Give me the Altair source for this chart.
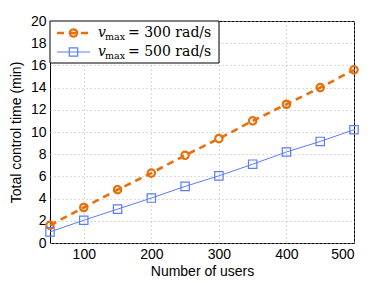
import altair as alt
import pandas as pd

users = [50, 100, 150, 200, 250, 300, 350, 400, 450, 500]
t300 = [1.6, 3.2, 4.8, 6.3, 7.9, 9.4, 11.0, 12.5, 14.0, 15.6]
t500 = [1.0, 2.05, 3.05, 4.05, 5.1, 6.05, 7.1, 8.2, 9.15, 10.2]
series_names = ["vmax = 300 rad/s", "vmax = 500 rad/s"]
x_ticks = [100, 200, 300, 400, 500]
y_ticks = [0, 2, 4, 6, 8, 10, 12, 14, 16, 18, 20]

ORANGE = "#e8700c"
BLUE = "#5b7cf7"

df300 = pd.DataFrame({"users": users, "time": t300})
df500 = pd.DataFrame({"users": users, "time": t500})

x = alt.X("users:Q", scale=alt.Scale(domain=[50, 500], nice=False),
          axis=alt.Axis(values=x_ticks, title="Number of users"))
y = alt.Y("time:Q", scale=alt.Scale(domain=[0, 20], nice=False),
          axis=alt.Axis(values=y_ticks, title="Total control time (min)"))

line300 = alt.Chart(df300).mark_line(color=ORANGE, strokeWidth=2.6, strokeDash=[7, 5]).encode(x=x, y=y)
pts300 = alt.Chart(df300).mark_point(shape="circle", color=ORANGE, size=55, strokeWidth=2.2, filled=False, opacity=1).encode(x=x, y=y)
line500 = alt.Chart(df500).mark_line(color=BLUE, strokeWidth=1).encode(x=x, y=y)
pts500 = alt.Chart(df500).mark_point(shape="square", color=BLUE, size=70, strokeWidth=1.2, filled=False, opacity=1).encode(x=x, y=y)

# Manual legend (MATLAB-style box in the upper left)
leg = pd.DataFrame({"name": series_names})
box = alt.Chart(leg.head(1)).mark_rect(fill="white", stroke="black", strokeWidth=1).encode(
    x=alt.value(0), x2=alt.value(169), y=alt.value(0), y2=alt.value(42))
l1 = alt.Chart(leg.head(1)).mark_rule(color=ORANGE, strokeWidth=2.6, strokeDash=[7, 5]).encode(
    x=alt.value(7), x2=alt.value(40), y=alt.value(12))
p1 = alt.Chart(leg.head(1)).mark_point(shape="circle", color=ORANGE, size=55, strokeWidth=2.2, opacity=1).encode(
    x=alt.value(23.5), y=alt.value(12))
l2 = alt.Chart(leg.head(1)).mark_rule(color=BLUE, strokeWidth=1).encode(
    x=alt.value(7), x2=alt.value(40), y=alt.value(31))
p2 = alt.Chart(leg.head(1)).mark_point(shape="square", color=BLUE, size=70, strokeWidth=1.2, opacity=1).encode(
    x=alt.value(23.5), y=alt.value(31))

def txt(s, xx, yy, size=14, style="normal"):
    return alt.Chart(leg.head(1)).mark_text(text=s, align="left", baseline="alphabetic",
                                            font="DejaVu Serif", fontSize=size, fontStyle=style,
                                            color="black").encode(x=alt.value(xx), y=alt.value(yy))

texts = [
    txt("v", 48, 16, 14, "italic"), txt("max", 55, 19, 9.5), txt("= 300 rad/s", 78, 16, 14),
    txt("v", 48, 35, 14, "italic"), txt("max", 55, 38, 9.5), txt("= 500 rad/s", 78, 35, 14),
]

chart = alt.layer(line300, pts300, line500, pts500, box, l1, p1, l2, p2, *texts).properties(
    width=304, height=222,
    autosize=alt.AutoSizeParams(type="none"),
    padding={"left": 42, "top": 13, "right": 20, "bottom": 40},
).configure_view(stroke="black", strokeWidth=1).configure_axis(
    grid=True, gridColor="#b5b5b5", gridDash=[1, 3], gridWidth=1,
    domain=False, tickColor="black", tickSize=0,
    labelFont="Liberation Sans", labelFontSize=14, labelColor="black",
    titleFont="Liberation Sans", titleFontSize=14, titleFontWeight="normal", titleColor="black",
    labelPadding=4,
).configure_axisY(titlePadding=7).configure_axisX(titlePadding=3)

chart.save("out.html", embed_options={"renderer": "svg", "actions": False})
